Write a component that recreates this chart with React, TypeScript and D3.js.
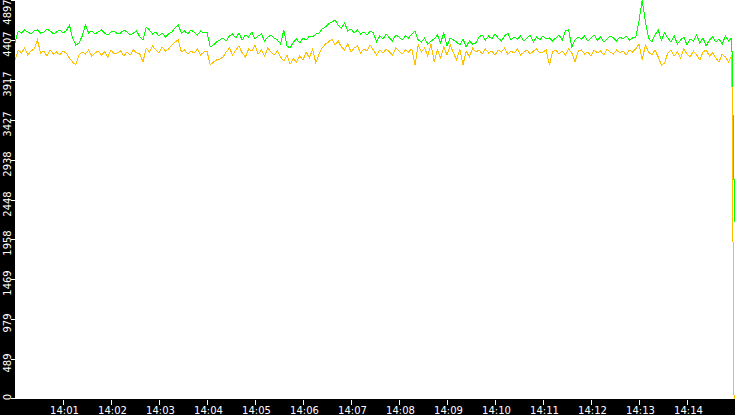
import React from "react";
import * as d3 from "d3";

const W = 735;
const H = 415;

// y-axis maximum and tick divisions
const yMax = 4897;
const yDivisions = 10;

// time axis (UTC) 14:00 -> 14:15, samples every 4 s
const startTime = Date.UTC(2024, 0, 1, 14, 0, 0);
const endTime = Date.UTC(2024, 0, 1, 14, 15, 0);
const sampleStepSec = 4;

// green series
const greenValues = [
  4369,
  4517, 4492, 4529, 4504, 4480, 4517, 4529, 4492, 4504, 4541, 4517, 4480, 4504, 4529, 4492, 4517,
  4590,
  4431, 4345, 4369,
  4455,
  4590,
  4492, 4517, 4480, 4504, 4529, 4492, 4467, 4504, 4517, 4480, 4492, 4529, 4504, 4467, 4492, 4517,
  4443, 4406,
  4566, 4529,
  4480, 4504, 4455, 4492, 4443, 4480, 4504,
  4553, 4590,
  4492, 4517, 4480, 4529, 4504, 4467, 4517, 4492, 4504,
  4320, 4345,
  4382, 4406, 4431, 4394,
  4455, 4480, 4431, 4492, 4406, 4467, 4443, 4504, 4418, 4455, 4480, 4394, 4443, 4467, 4431, 4406,
  4357, 4529, 4332, 4308,
  4382, 4418, 4369, 4431, 4406, 4455, 4443, 4480, 4492,
  4541, 4566, 4602, 4627, 4651,
  4590, 4553, 4615,
  4517, 4541, 4492, 4529, 4480, 4504, 4467, 4517, 4492,
  4382,
  4455, 4418, 4480, 4431, 4394, 4467, 4443, 4406, 4455, 4431, 4480,
  4517,
  4406, 4382, 4431, 4357, 4394, 4418,
  4467, 4369, 4492, 4332, 4431, 4406,
  4382, 4345, 4418, 4320, 4394, 4357, 4369,
  4443, 4467, 4406,
  4455, 4418, 4480, 4431, 4394, 4455, 4492, 4406, 4443,
  4418, 4455, 4394, 4431, 4467, 4382, 4443, 4406, 4455, 4418, 4431, 4394,
  4431, 4467, 4406, 4517, 4529,
  4320,
  4406, 4443, 4418, 4455, 4394, 4431, 4467, 4406, 4443, 4382, 4418, 4455, 4431, 4394, 4443, 4418, 4455, 4406, 4431, 4443,
  4639, 4897, 4627, 4431, 4382, 4467, 4529,
  4406, 4492,
  4431, 4382, 4455, 4357, 4406, 4443, 4345, 4418, 4394, 4467, 4369, 4431, 4332, 4406, 4443, 4382, 4418, 4357, 4455, 4394, 4431,
];
const greenFinalValue = 2172;
const greenFinalSec = 899.6;

// yellow series
const yellowValues = [
  4161,
  4283, 4247, 4308, 4222, 4271, 4296,
  4406,
  4247, 4271, 4210, 4283, 4234, 4259, 4222, 4271, 4247,
  4185, 4136, 4099,
  4222, 4259, 4234, 4283, 4210, 4247, 4271, 4222, 4259, 4197, 4283, 4234, 4247, 4271, 4210, 4259, 4222, 4283, 4247, 4234,
  4136,
  4308, 4259, 4332, 4283, 4247, 4320, 4271, 4296, 4345,
  4382, 4406,
  4259, 4283, 4234, 4271, 4247, 4296, 4222, 4259, 4271,
  4099,
  4136, 4161, 4173, 4197,
  4259, 4308, 4222, 4283, 4332, 4247, 4197, 4296, 4271, 4345, 4234, 4283, 4210, 4308, 4259, 4222, 4271,
  4197, 4148, 4222, 4112, 4173, 4136, 4210, 4161,
  4259, 4185, 4296, 4124, 4234,
  4308, 4357, 4382, 4418, 4345, 4394,
  4320, 4283, 4357, 4259, 4308, 4332, 4247, 4296, 4271, 4345, 4283,
  4222,
  4283, 4247, 4296, 4259, 4222, 4308, 4271, 4234, 4283, 4259, 4296,
  4099, 4345,
  4259, 4308, 4210, 4357, 4136, 4283, 4185, 4320, 4222, 4345, 4247, 4161, 4296, 4099, 4271, 4197, 4308,
  4259, 4283, 4234, 4296, 4247, 4271, 4222, 4283, 4259, 4308, 4234, 4271, 4247, 4296, 4222, 4259, 4283, 4234, 4271, 4296, 4247, 4259, 4283, 4099,
  4259, 4283, 4234, 4271, 4222, 4296, 4247, 4136, 4271, 4283, 4234, 4259, 4210, 4283, 4247, 4271, 4222, 4296, 4259, 4234, 4283, 4247, 4271, 4222, 4283, 4259, 4296,
  4357, 4161, 4345,
  4259, 4222, 4283, 4197, 4099, 4124, 4247, 4283, 4210, 4259, 4185, 4296, 4234, 4197, 4271, 4222, 4161, 4259, 4283, 4210, 4247, 4185, 4136, 4234, 4197, 4136, 4222,
];
const yellowFinalValue = 0;
const yellowFinalSec = 898.8;

const greenColor = "#00ff00";
const yellowColor = "#ffc000";

type Pt = { t: Date; v: number };

function buildSeries(values: number[], finalSec: number, finalValue: number): Pt[] {
  const pts: Pt[] = values.map((v, i) => ({ t: new Date(startTime + i * sampleStepSec * 1000), v }));
  pts.push({ t: new Date(startTime + finalSec * 1000), v: finalValue });
  return pts;
}

export default function App() {
  const plotLeft = 15;
  const plotRight = W;
  const plotTop = 0;
  const plotBottom = 399;

  const x = d3.scaleUtc().domain([new Date(startTime), new Date(endTime)]).range([plotLeft, plotRight]);
  const y = d3.scaleLinear().domain([0, yMax]).range([plotBottom, plotTop]);

  const line = d3
    .line<Pt>()
    .x((d) => x(d.t))
    .y((d) => y(d.v));

  const green = buildSeries(greenValues, greenFinalSec, greenFinalValue);
  const yellow = buildSeries(yellowValues, yellowFinalSec, yellowFinalValue);

  const yTicks = d3.range(yDivisions + 1).map((i) => (yMax * i) / yDivisions);
  const xTicks = x
    .ticks(d3.utcMinute.every(1) as d3.TimeInterval)
    .filter((d) => d.getTime() > startTime && d.getTime() < endTime);
  const fmt = d3.utcFormat("%H:%M");

  const fontSize = 10;
  const font = "'DejaVu Sans', sans-serif";

  return (
    <svg
      width={W}
      height={H}
      style={{ position: "absolute", left: 0, top: 0, display: "block" }}
      xmlns="http://www.w3.org/2000/svg"
    >
      <rect x={0} y={0} width={W} height={H} fill="#000" />
      <rect x={plotLeft} y={plotTop} width={plotRight - plotLeft} height={plotBottom - plotTop} fill="#fff" />

      <path d={line(green) || ""} fill="none" stroke={greenColor} strokeWidth={1} shapeRendering="crispEdges" />
      <path d={line(yellow) || ""} fill="none" stroke={yellowColor} strokeWidth={1} shapeRendering="crispEdges" />

      {yTicks.map((v, i) => {
        const ty = Math.round(y(v));
        const label = String(Math.floor(v + 1e-6));
        const half = (label.length * 0.6 * fontSize) / 2;
        let cy = ty + 4;
        if (cy - half < 0) cy = half;
        if (cy + half > 400) cy = 400 - half;
        return (
          <g key={"y" + i}>
            <line x1={11} x2={15} y1={Math.min(ty, 398) + 0.5} y2={Math.min(ty, 398) + 0.5} stroke="#fff" strokeWidth={1} shapeRendering="crispEdges" />
            <text
              transform={`translate(10.5,${cy}) rotate(-90)`}
              textAnchor="middle"
              fill="#fff"
              fontSize={fontSize}
              fontFamily={font}
            >
              {label}
            </text>
          </g>
        );
      })}

      {xTicks.map((d, i) => {
        const tx = Math.round(x(d)) + 0.5;
        return (
          <g key={"x" + i}>
            <line x1={tx} x2={tx} y1={400} y2={405} stroke="#fff" strokeWidth={1} shapeRendering="crispEdges" />
            <text x={tx + 1} y={414} textAnchor="middle" fill="#fff" fontSize={fontSize} fontFamily={font}>
              {fmt(d)}
            </text>
          </g>
        );
      })}
    </svg>
  );
}
